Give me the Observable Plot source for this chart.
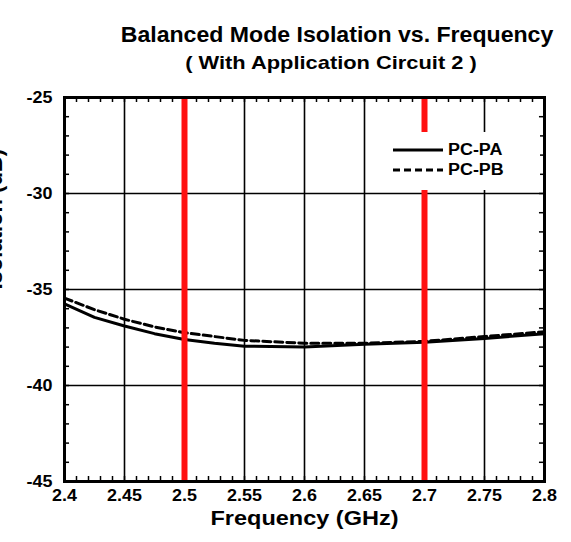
<!DOCTYPE html>
<html>
<head>
<meta charset="utf-8">
<script src="https://cdn.jsdelivr.net/npm/d3@7"></script>
<script src="https://cdn.jsdelivr.net/npm/@observablehq/plot@0.6"></script>
<style>
  body { margin: 0; background: #fff; font-family: "Liberation Sans", Arial, sans-serif; }
  #wrap { position: relative; width: 571px; height: 542px; overflow: hidden; background: #fff; }
  .t { position: absolute; font-weight: bold; white-space: nowrap; line-height: 1; color: #000; }
  #chart { position: absolute; left: 0; top: 80px; }
  #legend { position: absolute; left: 386px; top: 132px; width: 154px; height: 58px; background: #fff; }
  .lg { position: absolute; left: 7px; font-weight: bold; font-size: 16px; line-height: 1; display: flex; align-items: center; }
  .lg svg { margin-right: 5px; }
  .lg span { display: inline-block; transform: scaleX(1.12); transform-origin: left center; }
</style>
</head>
<body>
<div id="wrap">
  <div class="t" style="left:337px;top:24px;font-size:22px;transform:translateX(-50%) scaleX(1.05);">Balanced Mode Isolation vs. Frequency</div>
  <div class="t" style="left:331px;top:53px;font-size:19px;transform:translateX(-50%) scaleX(1.15);">( With Application Circuit 2 )</div>
  <div id="chart"></div>
  <div id="legend"></div>
</div>
<script>
// Data
const freq = [2.4, 2.425, 2.45, 2.475, 2.5, 2.525, 2.55, 2.6, 2.65, 2.7, 2.75, 2.8];
const pcPA = [-35.75, -36.45, -36.9, -37.3, -37.6, -37.8, -37.95, -38.0, -37.85, -37.75, -37.55, -37.3];
const pcPB = [-35.45, -36.05, -36.55, -36.95, -37.25, -37.45, -37.65, -37.8, -37.8, -37.7, -37.45, -37.2];
const seriesNames = ["PC-PA", "PC-PB"];
const markerFreqs = [2.5, 2.7];
const xTicks = [2.4, 2.45, 2.5, 2.55, 2.6, 2.65, 2.7, 2.75, 2.8];
const yTicks = [-45, -40, -35, -30, -25];
const xMinor = d3.range(0, 41).map(i => +(2.4 + i * 0.01).toFixed(2));
const yMinor = d3.range(-45, -24, 1);

const rows = [];
freq.forEach((f, i) => {
  rows.push({freq: f, val: pcPA[i], s: seriesNames[0]});
  rows.push({freq: f, val: pcPB[i], s: seriesNames[1]});
});

const xLen = 0.0042; // minor tick length in GHz (~5px)
const yLen = 0.26;   // minor tick length in dB (~5px)

const plot = Plot.plot({
  width: 571,
  height: 462,
  marginTop: 17,
  marginBottom: 61,
  marginLeft: 64,
  marginRight: 27,
  style: {fontFamily: "'Liberation Sans', Arial, sans-serif", fontWeight: "bold", color: "#000", background: "#fff"},
  x: {domain: [2.4, 2.8]},
  y: {domain: [-45, -25]},
  marks: [
    Plot.gridX(xTicks, {stroke: "#000", strokeOpacity: 1, strokeWidth: 1.6}),
    Plot.gridY(yTicks, {stroke: "#000", strokeOpacity: 1, strokeWidth: 1.6}),
    // minor ticks (inward) on all four sides
    Plot.ruleX(xMinor, {x: d => d, y1: -45, y2: -45 + yLen, stroke: "#000", strokeWidth: 1.5}),
    Plot.ruleX(xMinor, {x: d => d, y1: -25, y2: -25 - yLen, stroke: "#000", strokeWidth: 1.5}),
    Plot.ruleY(yMinor, {y: d => d, x1: 2.4, x2: 2.4 + xLen, stroke: "#000", strokeWidth: 1.5}),
    Plot.ruleY(yMinor, {y: d => d, x1: 2.8, x2: 2.8 - xLen, stroke: "#000", strokeWidth: 1.5}),
    Plot.line(rows.filter(d => d.s === "PC-PA"), {x: "freq", y: "val", stroke: "#000", strokeWidth: 3}),
    Plot.line(rows.filter(d => d.s === "PC-PB"), {x: "freq", y: "val", stroke: "#000", strokeWidth: 3, strokeDasharray: "8,4"}),
    Plot.ruleX(markerFreqs, {stroke: "#ff1010", strokeWidth: 6}),
    Plot.frame({stroke: "#000", strokeWidth: 3}),
    Plot.axisX(xTicks, {anchor: "bottom", tickSize: 0, tickPadding: 8, fontSize: 16, fontWeight: "bold", tickFormat: d => String(d), label: null}),
    Plot.axisY(yTicks, {anchor: "left", tickSize: 0, tickPadding: 12, fontSize: 16, fontWeight: "bold", tickFormat: d => String(d), label: null}),
    Plot.text(["Frequency (GHz)"], {frameAnchor: "bottom", dy: 43, fontSize: 21, fontWeight: "bold", fill: "#000"}),
    Plot.text(["Isolation (dB)"], {frameAnchor: "left", rotate: -90, dx: -70, fontSize: 22, fontWeight: "bold", fill: "#000"})
  ]
});
// widen the glyphs slightly (the reference text is horizontally stretched)
plot.querySelectorAll("text").forEach(t => {
  const tr = t.getAttribute("transform");
  if (tr && !tr.includes("rotate")) t.setAttribute("transform", tr + " scale(1.12,1)");
});
document.getElementById("chart").appendChild(plot);

// Legend
const legend = document.getElementById("legend");
seriesNames.forEach((name, i) => {
  const item = document.createElement("div");
  item.className = "lg";
  item.style.top = (i === 0 ? 10 : 30) + "px";
  const dash = i === 0 ? "" : "stroke-dasharray='7,4'";
  item.innerHTML = `<svg width="50" height="14"><line x1="0" x2="50" y1="7" y2="7" stroke="#000" stroke-width="3" ${dash}/></svg><span>${name}</span>`;
  legend.appendChild(item);
});
</script>
</body>
</html>
